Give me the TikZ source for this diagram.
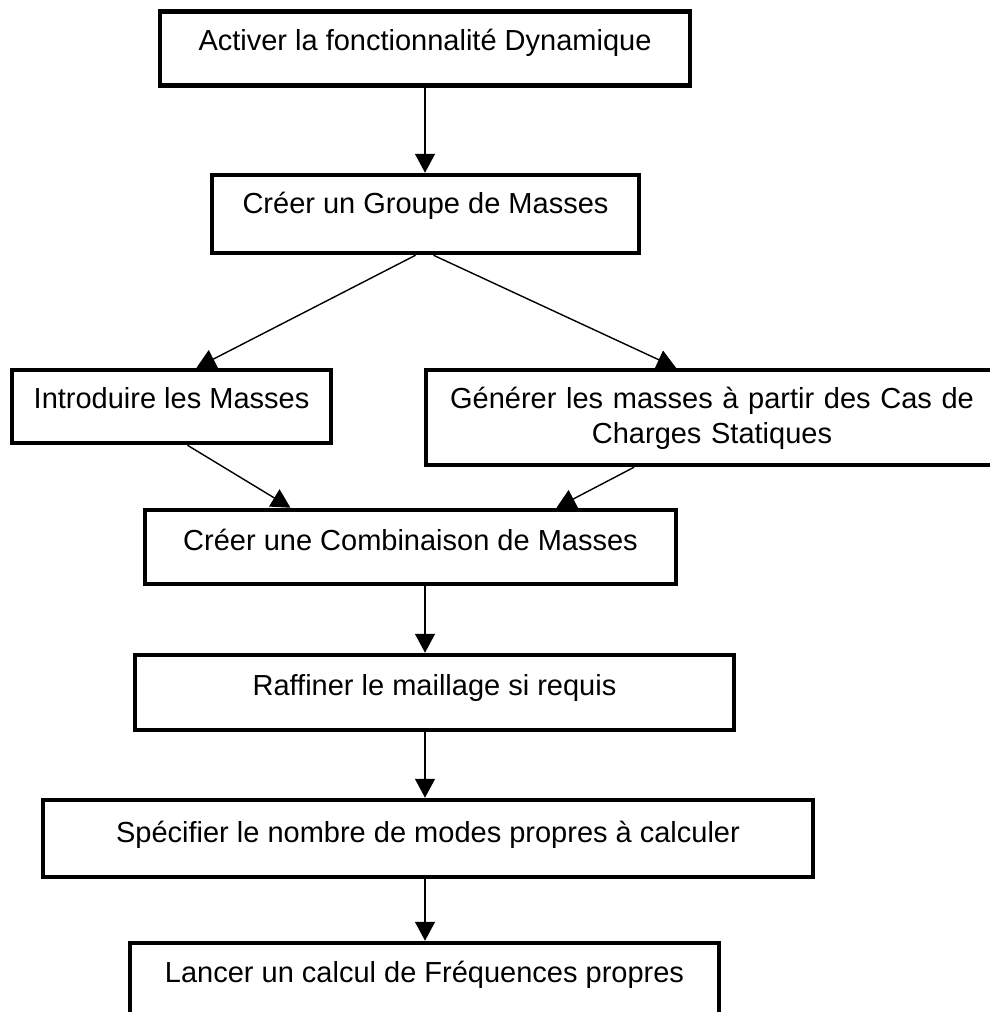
\documentclass[tikz,border=0pt]{standalone}
\usepackage{fontspec}
\setmainfont{Liberation Sans}
\usetikzlibrary{arrows.meta,positioning}

\begin{document}
\begin{tikzpicture}[x=1pt,y=-1pt,
  box/.style={draw,line width=4.5pt,inner xsep=0pt,inner ysep=0pt,
    text height=39pt,text depth=35pt,anchor=base,
    font=\fontsize{29}{35}\selectfont},
  arr/.style={line width=1.4pt,-{Triangle[width=20pt,length=19pt]}}]
\useasboundingbox (0,0) rectangle (989,1012);
%\draw[help lines] (0,0) grid[step=100] (989,1012);
\node[box,minimum width=530] (act) at (425,50.7) {Activer la fonctionnalité Dynamique};
\node[box,minimum width=427,text depth=40pt,text height=38pt] (grp) at (425.5,213) {Créer un Groupe de Masses};
%
\node[box,minimum width=319,text height=38pt] (intro) at (171.5,408) {Introduire les Masses};
\node[box,text width=556,inner xsep=8pt,align=center,text height=38pt,text depth=57pt] (gen) at (712,408)
  {Générer les masses à partir des Cas de\\Charges Statiques};
%
\node[box,minimum width=531,text height=40pt,text depth=34pt] (comb) at (410.5,550) {Créer une Combinaison de Masses};
\node[box,minimum width=599,text height=40pt] (raff) at (434.5,695) {Raffiner le maillage si requis};
\node[box,minimum width=770,text height=42pt] (spec) at (428,842) {Spécifier le nombre de modes propres à calculer};
\node[box,minimum width=589] (lanc) at (424.5,982) {Lancer un calcul de Fréquences propres};
%
\draw[arr] (act.south) -- (grp.north -| act);
\draw[arr] ([xshift=-10pt]grp.south) -- ([xshift=25pt]intro.north);
\draw[arr] ([xshift=8pt]grp.south) -- ([xshift=-36pt]gen.north);
\draw[arr] ([xshift=16pt]intro.south) -- ([xshift=-120pt]comb.north);
\draw[arr] ([xshift=-78pt]gen.south) -- ([xshift=146pt]comb.north);
\draw[arr] (comb.south -| act) -- (raff.north -| act);
\draw[arr] (raff.south -| act) -- (spec.north -| act);
\draw[arr] (spec.south -| act) -- (lanc.north -| act);
\end{tikzpicture}
\end{document}
